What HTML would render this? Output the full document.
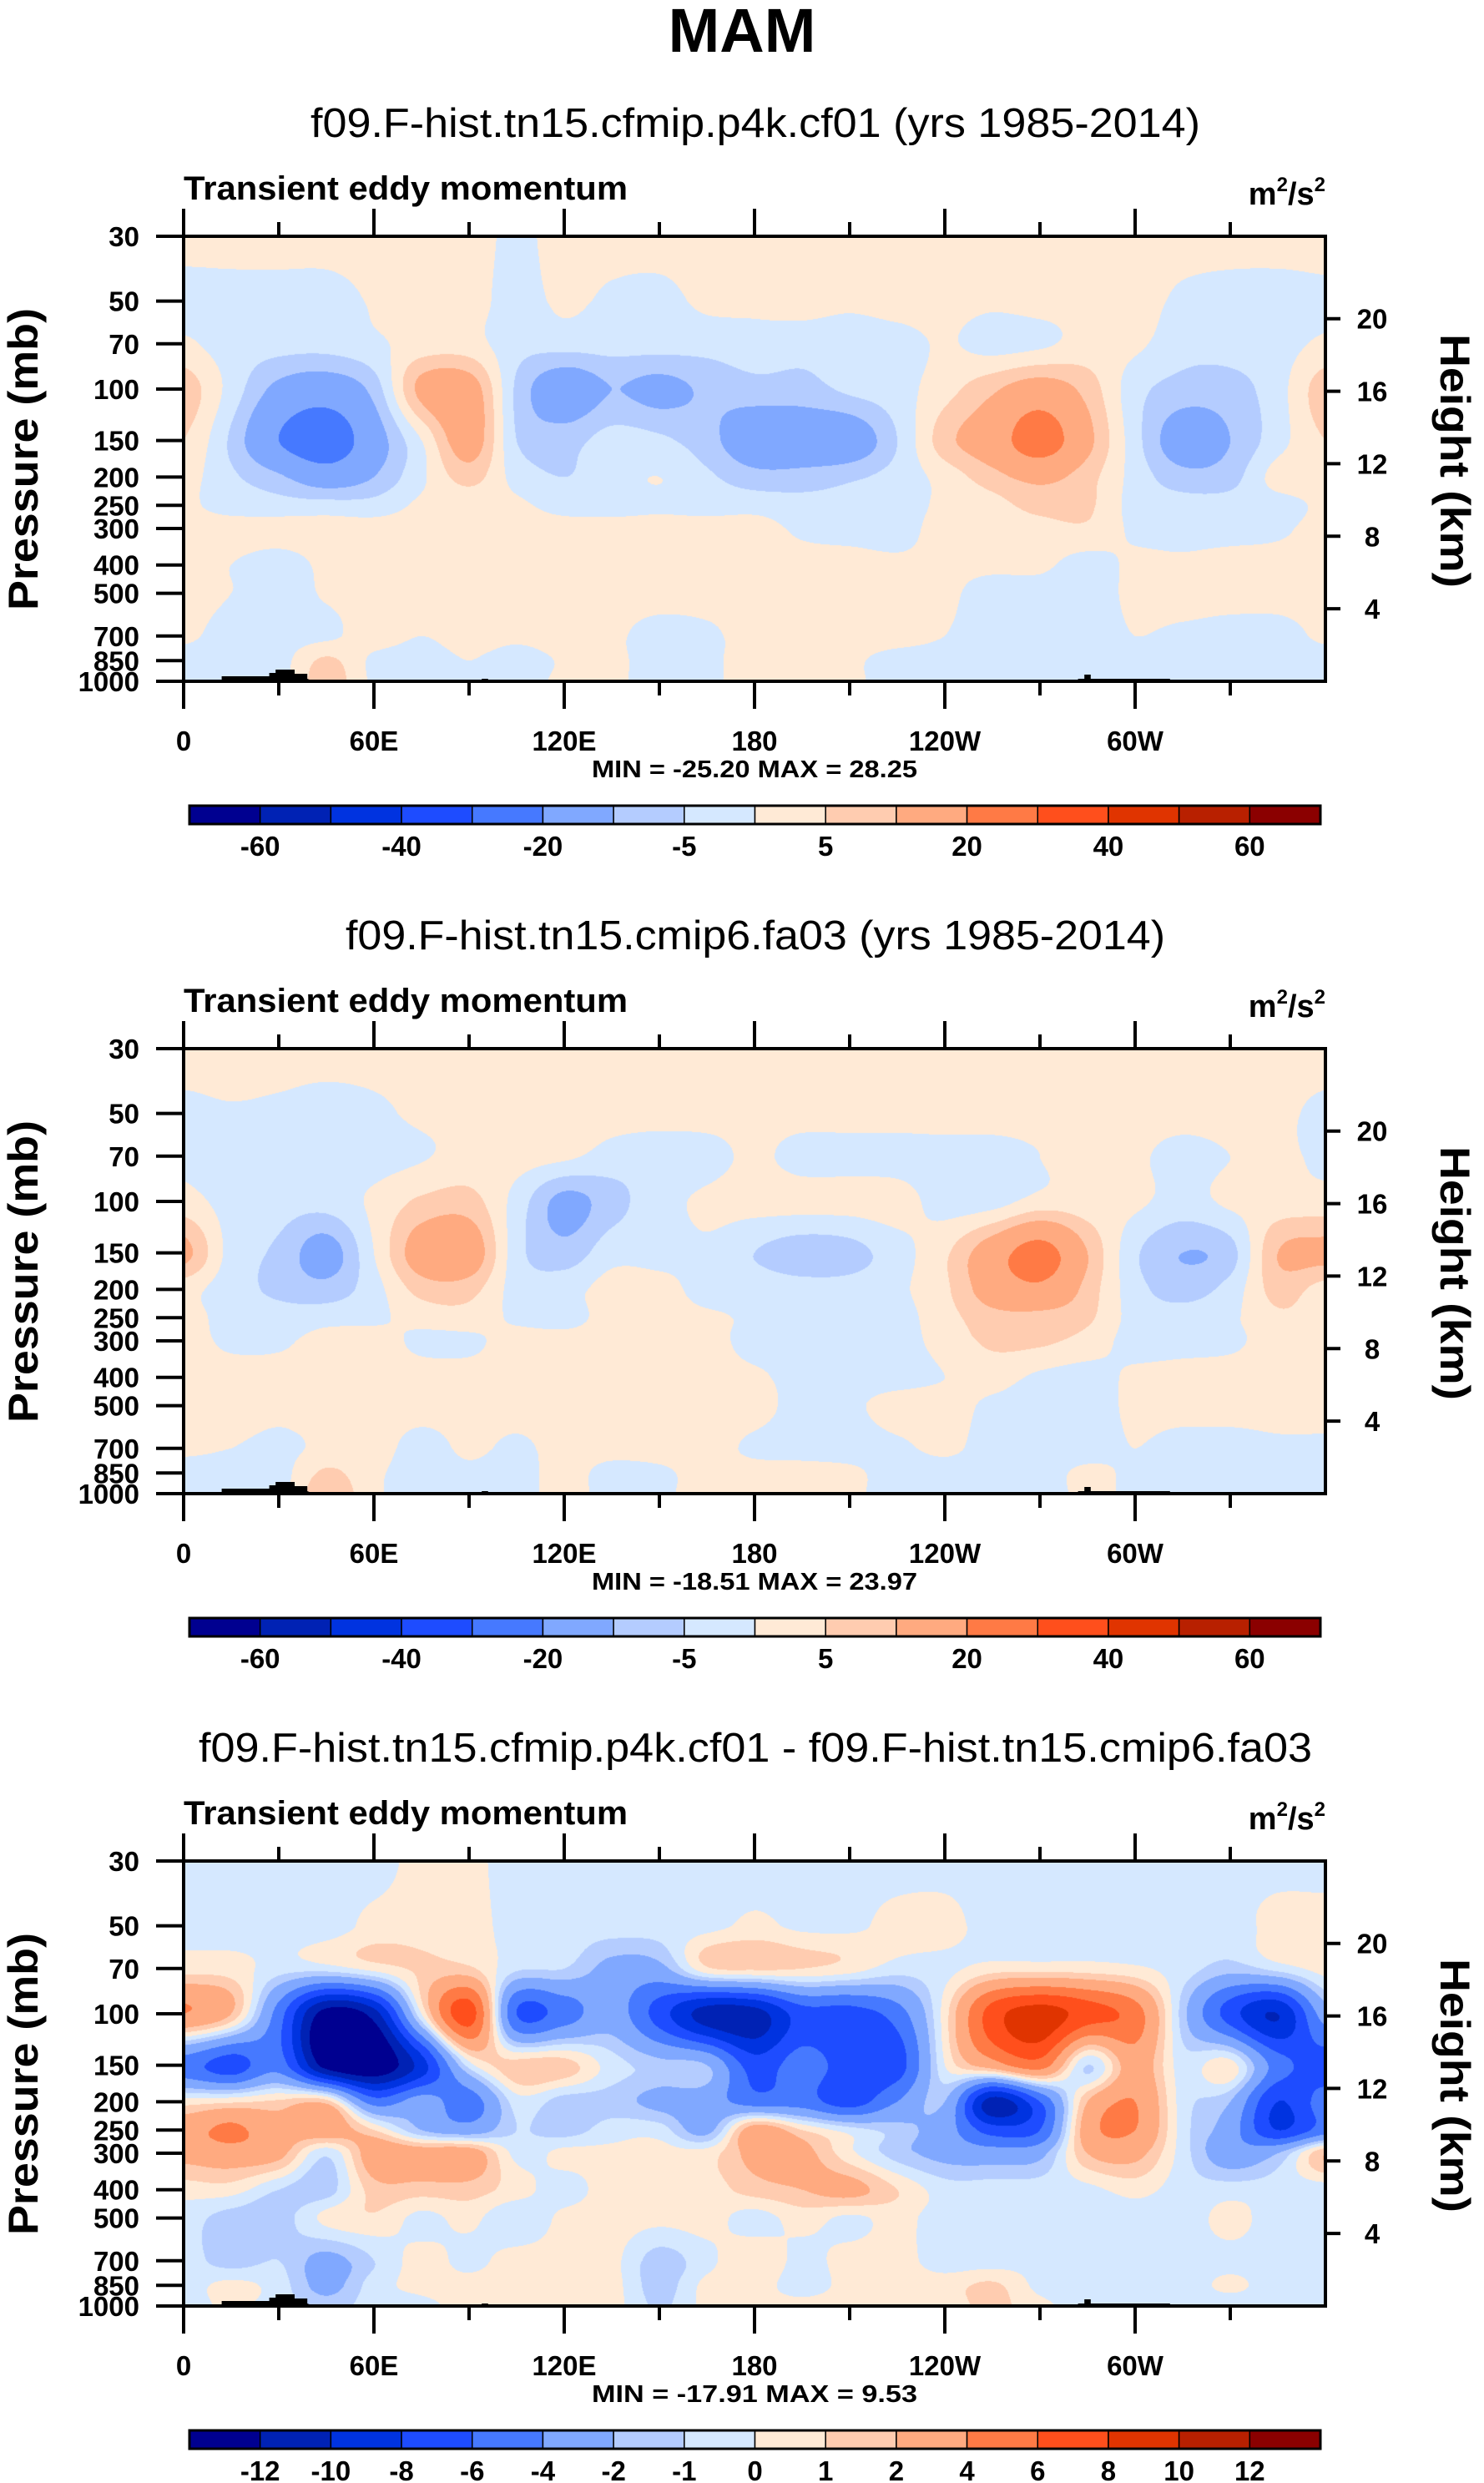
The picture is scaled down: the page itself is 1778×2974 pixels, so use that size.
<!DOCTYPE html>
<html><head><meta charset="utf-8">
<style>
html,body{margin:0;padding:0;background:#fff;}
#wrap{position:relative;width:1778px;height:2974px;overflow:hidden;background:#fff;}
canvas{position:absolute;left:220px;}
svg{position:absolute;left:0;top:0;}
text{font-family:"Liberation Sans",Arial,sans-serif;fill:#000;}
</style></head>
<body>
<div id="wrap">
<canvas id="c0" width="1368" height="533" style="top:283px"></canvas>
<canvas id="c1" width="1368" height="533" style="top:1256px"></canvas>
<canvas id="c2" width="1368" height="533" style="top:2229px"></canvas>
<svg id="ov" width="1778" height="2974" xmlns="http://www.w3.org/2000/svg">
<text x="889" y="62" text-anchor="middle" font-size="74" font-weight="bold">MAM</text>
</svg>
</div>
<script>
const lonNodes=[0,15,30,45,60,75,90,105,120,135,150,165,180,195,210,225,240,255,270,285,300,315,330,345,360];
const pLevels=[30,50,70,100,150,200,250,300,400,500,700,850,1000];
const levelsAbs=[-60,-50,-40,-30,-20,-10,-5,0,5,10,20,30,40,50,60];
const levelsDiff=[-12,-10,-8,-6,-4,-2,-1,0,1,2,4,6,8,10,12];
const cbLabelsAbs=["","-60","","-40","","-20","","-5","","5","","20","","40","","60",""];
const cbLabelsDiff=["","-12","-10","-8","-6","-4","-2","-1","0","1","2","4","6","8","10","12",""];
const yTickLabels=["30","50","70","100","150","200","250","300","400","500","700","850","1000"];
const heightTicks=[4,8,12,16,20];
const xTickLons=[0,60,120,180,240,300];
const xTickLabels=["0","60E","120E","180","120W","60W"];
const panelTitles=["f09.F-hist.tn15.cfmip.p4k.cf01 (yrs 1985-2014)","f09.F-hist.tn15.cmip6.fa03 (yrs 1985-2014)","f09.F-hist.tn15.cfmip.p4k.cf01 - f09.F-hist.tn15.cmip6.fa03"];
const titleWidths=[1066,982,1334];
const minMaxText=["MIN = -25.20  MAX =  28.25","MIN = -18.51  MAX =  23.97","MIN = -17.91  MAX =   9.53"];

const fieldCf01=[
[2,2,2,2,2,2,2,-1,2,2,2,2,2,2,2,2,2,2,2,2,2,2,2,2,2],
[-2,-2,-2,-2,0.5,2,2,-2,1,-1,-1.5,1,1,2,1,2,2,1,2,2,2,-1,-2,-2,-1],
[1,-2.5,-3,-3,-1,2,2,-3,-3,-3,-3,-3,-2,-3,-3,-2,0.5,-2,-1,2,1,-3,-3,-2,1],
[8,-2,-12,-15,-8,12,14,-6,-15,-10,-12,-9,-7,-7,-4,-2,3,9,14,8,-3,-7,-7,-2,8],
[5,-6,-20,-26,-14,0,14,-5,-7,-3,-4,-8,-15,-15,-15,-5,8,15,25,12,-3,-14,-10,-2,5],
[2,-4,-9,-15,-10,-1,7,-2,-5,-2,0,-4,-8,-8,-6,-3,2,8,12,7,-2,-8,-7,2,2],
[1,-2,-3,-3,-3,1,2,1,-2,-2,-1,-2,-2,-3,-3,-2,1,3,7,6,-2,-3,-3,-2,1],
[2,2,2,2,2,2,2,2,2,2,2,2,2,-1,-2,-2,2,2,3,4,-1,-2,-2,-1,2],
[2,0,-2,1,2,2,2,2,2,2,2,2,2,2,2,1,1,1,1,-2,1,1,2,2,2],
[2,0,-2,0.5,2,2,2,2,2,2,2,2,2,2,2,2,1,-2,-2,-2,1,2,2,2,2],
[1,-2,-2,-1,2,0,2,1,2,1,-2,-1,2,2,2,2,0,-2,-2,-2,0,-1,-2,-2,1],
[-2,-2,-2,6,-1,-2,0,-2,0.5,1,-2,-1,2,2,1,-2,-2,-2,-2,-1,-1,-2,-2,-2,-2],
[-2,-2,-2,8,-1,-2,0,-2,1,1,-2,-1,2,2,1,-2,-2,-2,-2,-1,-1,-2,-2,-2,-2]];
const fieldFa03=[
[2,2,2,2,2,2,2,2,2,2,2,2,2,2,2,2,2,2,2,2,2,2,2,2,2],
[-1,-0.5,-1,-2,-1,1,2,2,2,2,2,2,2,2,2,2,2,2,2,2,2,2,2,1,-1],
[-1,-3,-3,-3,-2,-0.5,2,2,1,-2,-3,-2,1,-2,-2,-2,-2,-2,0,2,1,-2,0,1,-1],
[2,-2,-3,-3,1,6,7,-2,-12,-7,-2,1,2,2,2,2,-2,-2,2,2,1,-2,1,2,2],
[12,-2,-6,-13,0,14,15,-3,-8,-2,-2,-1,-5,-8,-7,-2,4,15,24,10,-4,-10,-7,10,12],
[2,-3,-6,-8,-2,7,7,-2,-2,2,2,-2,-2,-3,-3,-1,4,14,18,8,-3,-7,-3,7,3],
[2,-2,-3,-2,-1,2,3,-1,-2,2,2,1,-1,-3,-3,-2,3,8,8,6,-2,-3,-1,4,3],
[2,-1,-1,2,2,-1,-1,2,2,2,2,2,-2,-2,-2,-2,2,6,6,3,-2,-2,-1,2,2],
[2,2,2,2,2,2,2,2,2,2,2,2,1,-2,-2,-2,0,2,-1,-2,1,2,2,2,2],
[2,2,1,2,2,2,2,2,2,2,1,2,2,-2,-1,2,2,-1,-2,-2,1,2,2,2,2],
[1,0,-1,1,2,-2,1,-1,2,2,2,2,-1,-2,-2,-1,1,-2,-2,-2,0,-2,-2,-1,-1],
[-2,-2,-2,6,1,-2,-1,-2,2,-2,-1,2,2,2,1,-2,-2,-2,-2,1,-1,-2,-2,-2,-2],
[-2,-2,-2,9,1,-2,-1,-2,2,-2,-1,2,2,2,1,-2,-2,-2,-2,1,-1,-2,-2,-2,-2]];
const fieldDiff=[
[-0.5,-0.5,-0.5,-0.5,-0.5,0.4,0.3,-0.5,-0.5,-0.5,-0.5,-0.5,-0.5,-0.5,-0.5,-0.5,-0.5,-0.5,-0.5,-0.5,-0.5,-0.5,-0.5,-0.5,-0.5],
[-0.3,-0.5,-0.5,-0.5,0.3,0.5,0.5,-0.5,-0.5,-0.5,-0.5,-0.3,0.2,-0.2,-0.2,0.3,0.4,-0.5,-0.5,-0.5,-0.5,-0.5,-0.5,0.4,0.5],
[0.6,0.5,-0.5,-0.5,0.4,1.2,1.2,-0.8,-1,-2.5,-2.5,0.8,1.2,1,0.5,-0.5,-0.3,0.5,0.6,0.5,0.2,-0.5,-1.5,-0.6,0.4],
[4,2,-5,-13,-11,0,7,-6,-5,-3,-7,-11,-11,-7,-7,-5,0.5,7,9,7,5,-1.5,-7,-10,-3],
[-5,-7,-5,-13,-14,-9,-0.5,1.5,1.5,-0.5,-1.5,-2,-7,-5,-7,-7,0,3,5,-1,3,-0.5,0.5,-5,-7],
[0.5,0.8,1.2,1.5,-5,-3,-5,-0.5,-1.5,-1.5,-2.5,-3,-5,-5,-7,-4,-2,-11,-6,2,4,-0.5,-2,-8,-5],
[3,4.5,2.5,3,1,-2,-3,-1,-1.5,-0.5,-0.5,-2.5,3,1,-0.5,-1.5,-3,-7,-6,3,4,-0.5,-3,-8,-5],
[2.5,3,2.5,-0.8,3,3,3,-0.3,0.3,0.3,0.4,0.5,2.5,2.5,0.3,-1.5,-2.5,-3,-2.5,2,2.5,-0.5,-3,-2,2],
[0.5,0.5,-1,-1.5,1.5,1.5,1.5,0.5,-0.5,0.6,0.5,0.5,1.5,2,2.5,1,-0.5,-0.5,-0.5,-0.3,0.4,-0.5,-0.5,-0.5,-0.5],
[-0.5,-1.5,-1.5,0.3,0.8,-0.3,0.3,-1,0.3,0.5,0.3,0.4,-0.4,0.4,-0.2,0.3,-0.5,-0.5,-0.5,-0.5,-0.5,-0.5,0.3,-0.5,-0.5],
[-0.5,-1.5,-1,-2.5,-1,0.4,-0.3,0.5,0.4,0.3,-1.5,-0.3,0.8,-0.3,0.4,0.4,-0.5,-0.5,-0.3,-0.5,-0.5,-0.5,-0.3,-0.5,-0.5],
[-0.5,0.3,-0.5,-2.5,-0.5,0.3,0.4,0.5,0.5,0.4,-1.5,0.3,0.4,-0.4,0.3,0.4,0.5,1.2,-0.3,-0.5,-0.5,-0.5,0.2,-0.5,-0.5],
[-0.5,0.2,-0.5,-1.5,-0.5,-0.3,0.4,0.3,0.4,0.4,-1.2,0.3,0.3,0.3,0.4,0.4,0.5,1.3,0.3,-0.5,-0.5,-0.5,-0.5,-0.5,-0.5]];

const palette=[[0,0,144],[0,34,180],[0,51,224],[30,76,255],[70,121,255],[128,168,255],[180,204,255],[213,232,255],[255,234,214],[255,204,176],[255,170,128],[255,122,69],[255,79,28],[224,52,0],[184,32,0],[139,0,0]];
const paletteCss=palette.map(c=>'rgb('+c.join(',')+')');

const PX0=220, PW=1368, PH=533;
const panelTops=[283,1256,2229];
function xOfLon(lon){return PX0+lon/360*PW;}
function yOfP(p,top){return top+Math.log(p/30)/Math.log(1000/30)*PH;}

function cr(p0,p1,p2,p3,t){const t2=t*t,t3=t2*t;return 0.5*((2*p1)+(-p0+p2)*t+(2*p0-5*p1+4*p2-p3)*t2+(-p0+3*p1-3*p2+p3)*t3);}
function renderField(canvas,field,levels){
  const ctx=canvas.getContext('2d');const img=ctx.createImageData(PW,PH);const d=img.data;
  const nR=field.length,nC=lonNodes.length;
  const rows=field.map(r=>{const a=new Float32Array(PW);for(let px=0;px<PW;px++){const lon=(px+0.5)/PW*360;let f=lon/15;let i=Math.min(Math.floor(f),nC-2);const t=f-i;const g=k=>r[Math.max(0,Math.min(nC-1,k))];a[px]=cr(g(i-1),g(i),g(i+1),g(i+2),t);}return a;});
  const lnP=pLevels.map(Math.log);
  for(let py=0;py<PH;py++){
    const lp=Math.log(30)+(py+0.5)/PH*Math.log(1000/30);
    let i=0;while(i<nR-2&&lp>lnP[i+1])i++;
    const t=(lp-lnP[i])/(lnP[i+1]-lnP[i]);
    const R=k=>rows[Math.max(0,Math.min(nR-1,k))];
    const r0=R(i-1),r1=R(i),r2=R(i+1),r3=R(i+2);
    for(let px=0;px<PW;px++){
      const v=cr(r0[px],r1[px],r2[px],r3[px],t);
      let ci=0;while(ci<levels.length&&v>=levels[ci])ci++;
      const c=palette[ci];const o=(py*PW+px)*4;d[o]=c[0];d[o+1]=c[1];d[o+2]=c[2];d[o+3]=255;
    }
  }
  ctx.putImageData(img,0,0);
}
renderField(document.getElementById('c0'),fieldCf01,levelsAbs);
renderField(document.getElementById('c1'),fieldFa03,levelsAbs);
renderField(document.getElementById('c2'),fieldDiff,levelsDiff);

const NS='http://www.w3.org/2000/svg';const svg=document.getElementById('ov');
function mk(tag,attrs,txt){const e=document.createElementNS(NS,tag);for(const k in attrs)e.setAttribute(k,attrs[k]);if(txt!==undefined)e.textContent=txt;svg.appendChild(e);return e;}

for(let k=0;k<3;k++){
  const T=panelTops[k],o=T-283,B=T+PH;
  let e;
  e=mk('text',{x:905,y:164+o,'text-anchor':'middle','font-size':49,textLength:titleWidths[k],lengthAdjust:'spacingAndGlyphs'},panelTitles[k]);
  
  
  e=mk('text',{x:220,y:239+o,'font-size':40,'font-weight':'bold',textLength:532,lengthAdjust:'spacingAndGlyphs'},'Transient eddy momentum');
  
  
  e=mk('text',{x:1588,y:245+o,'text-anchor':'end','font-size':38,'font-weight':'bold'});
  e.innerHTML='m<tspan font-size="24" dy="-16">2</tspan><tspan dy="16">/s</tspan><tspan font-size="24" dy="-16">2</tspan>';
  
  
  const gr=mk('path',{d:`M${xOfLon(9)},${B} L${xOfLon(9)},${B-2} L${xOfLon(12)},${B-2} L${xOfLon(12)},${B-6} L${xOfLon(27)},${B-6} L${xOfLon(27)},${B-10} L${xOfLon(29)},${B-10} L${xOfLon(29)},${B-14} L${xOfLon(35)},${B-14} L${xOfLon(35)},${B-9} L${xOfLon(39)},${B-9} L${xOfLon(39)},${B-3} L${xOfLon(41)},${B} Z M${xOfLon(94)},${B} L${xOfLon(94)},${B-3} L${xOfLon(96)},${B-3} L${xOfLon(96)},${B} Z M${xOfLon(282)},${B} L${xOfLon(282)},${B-3} L${xOfLon(284)},${B-3} L${xOfLon(284)},${B-8} L${xOfLon(286)},${B-8} L${xOfLon(286)},${B-3} L${xOfLon(311)},${B-3} L${xOfLon(311)},${B} Z`,fill:'#000'});
  
  
  e=mk('rect',{x:PX0,y:T,width:PW,height:PH,fill:'none',stroke:'#000','stroke-width':4});
  
  
  pLevels.forEach((p,i)=>{const y=yOfP(p,T);
    const l=mk('line',{x1:PX0-33,x2:PX0,y1:y,y2:y,stroke:'#000','stroke-width':4});
    
    
    const t=mk('text',{x:167,y:y+12,'text-anchor':'end','font-size':33,'font-weight':'bold'},yTickLabels[i]);
    
    
  });
  heightTicks.forEach(z=>{const y=yOfP(1000*Math.exp(-z/7),T);
    const l=mk('line',{x1:PX0+PW,x2:PX0+PW+18,y1:y,y2:y,stroke:'#000','stroke-width':4});
    
    
    const t=mk('text',{x:1644,y:y+12,'text-anchor':'middle','font-size':33,'font-weight':'bold'},String(z));
    
    
  });
  for(let lon=0;lon<360;lon+=30){const x=xOfLon(lon);const maj=lon%60===0;const L=maj?33:17;
    const a=mk('line',{x1:x,x2:x,y1:T-L,y2:T,stroke:'#000','stroke-width':4});
    
    
    const b=mk('line',{x1:x,x2:x,y1:B,y2:B+L,stroke:'#000','stroke-width':4});
    
    
  }
  xTickLons.forEach((lon,i)=>{const t=mk('text',{x:xOfLon(lon),y:899+o,'text-anchor':'middle','font-size':33,'font-weight':'bold'},xTickLabels[i]);
    
    
  });
  e=mk('text',{transform:`translate(45,${550+o}) rotate(-90)`,'text-anchor':'middle','font-size':50,'font-weight':'bold',textLength:362,lengthAdjust:'spacingAndGlyphs'},'Pressure (mb)');
  
  
  e=mk('text',{transform:`translate(1726,${552+o}) rotate(90)`,'text-anchor':'middle','font-size':50,'font-weight':'bold',textLength:304,lengthAdjust:'spacingAndGlyphs'},'Height (km)');
  
  
  e=mk('text',{x:904,y:931+o,'text-anchor':'middle','font-size':29,'font-weight':'bold',textLength:390,lengthAdjust:'spacingAndGlyphs','xml:space':'preserve'},minMaxText[k]);
  
  
  const cx0=227,cx1=1582,cy=965+o,ch=22,bw=(cx1-cx0)/16;
  for(let i=0;i<16;i++){const r=mk('rect',{x:cx0+i*bw,y:cy,width:bw,height:ch,fill:paletteCss[i],stroke:'#000','stroke-width':1.5});
    
    
  }
  e=mk('rect',{x:cx0,y:cy,width:cx1-cx0,height:ch,fill:'none',stroke:'#000','stroke-width':3});
  
  
  const labs=k<2?cbLabelsAbs:cbLabelsDiff;
  labs.forEach((s,i)=>{if(!s)return;const t=mk('text',{x:cx0+i*bw,y:cy+60,'text-anchor':'middle','font-size':33,'font-weight':'bold'},s);
    
    
  });
}
</script>
</body></html>
